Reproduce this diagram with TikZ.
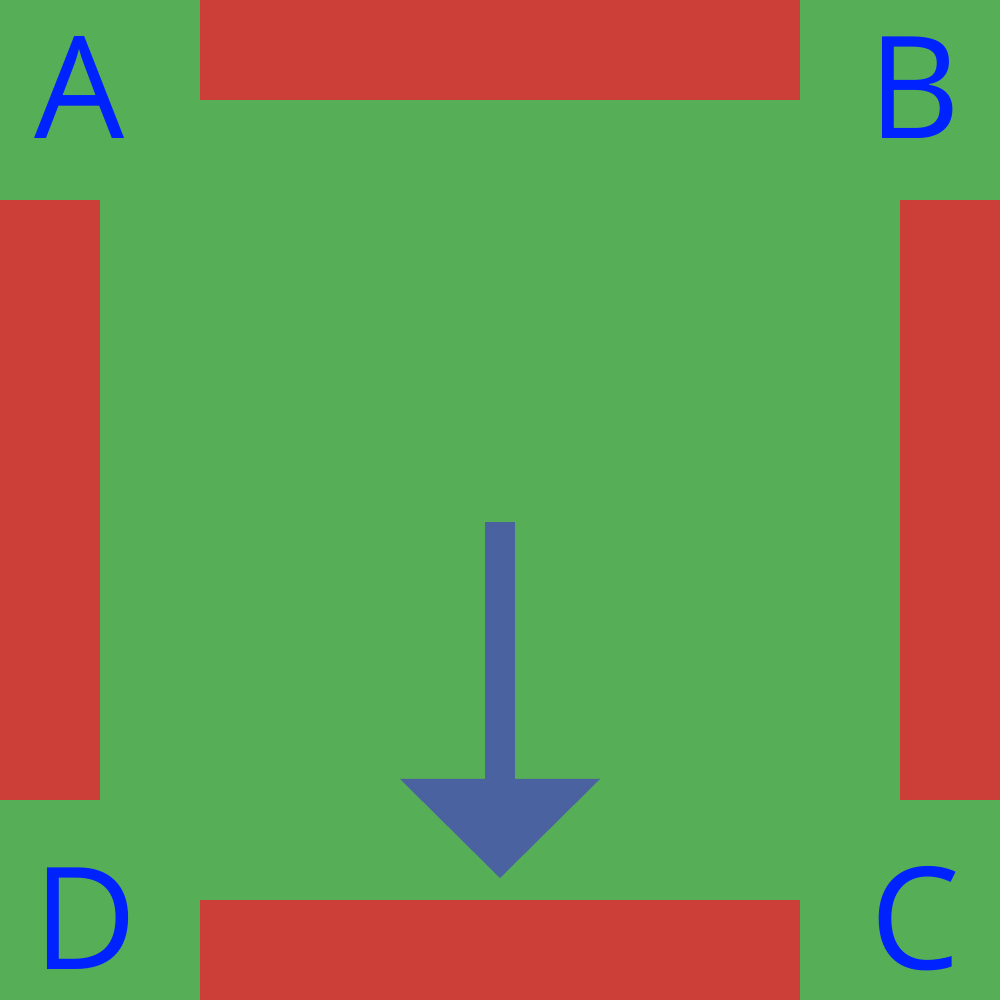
\documentclass[tikz,border=0pt]{standalone}
\usepackage{fontspec}
\newfontfamily\cornerfont{Open Sans}
\usetikzlibrary{positioning}

\definecolor{fieldgreen}{HTML}{56AE57}
\definecolor{wallred}{HTML}{CC3F38}
\definecolor{arrowblue}{HTML}{4A63A0}
\definecolor{letterblue}{HTML}{0022FF}

\tikzset{
  wall/.style={fill=wallred,draw=none},
  corner/.style={font=\cornerfont\fontsize{40.5}{40.5}\selectfont,text=letterblue,anchor=base,inner sep=0pt,text depth=0pt}
}

\begin{document}
\begin{tikzpicture}[x=1cm,y=1cm]
  \useasboundingbox (0,0) rectangle (10,10);
  \fill[fieldgreen] (0,0) rectangle (10,10);
  % walls
  \foreach \x/\y/\w/\h in {2/9/6/1,0/2/1/6,9/2/1/6,2/0/6/1}{
    \fill[wall] (\x,\y) rectangle +(\w,\h);
  }
  % arrow
  \fill[arrowblue] (4.85,4.78) rectangle (5.15,2.2);
  \fill[arrowblue] (4,2.21) -- (6,2.21) -- (5,1.22) -- cycle;
  % corners
  \node[corner] (labelA) at (0.8,8.61) {A};
  \node[corner] (labelB) at (9.15,8.61) {B};
  \node[corner] (labelD) at (0.85,0.3) {D};
  \node[corner] (labelC) at (9.15,0.3) {C};
\end{tikzpicture}
\end{document}
